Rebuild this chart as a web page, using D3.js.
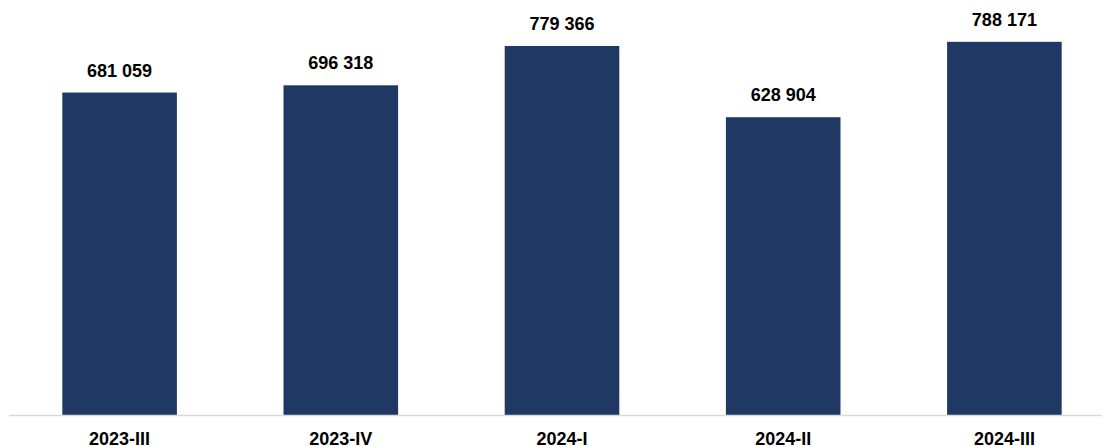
<!DOCTYPE html>
<html><head><meta charset="utf-8">
<script src="https://cdn.jsdelivr.net/npm/d3@7"></script>
<style>body{margin:0;background:#fff}svg{display:block}</style>
</head><body>
<svg id="c" width="1102" height="446"></svg>
<script>
const categories = ["2023-III","2023-IV","2024-I","2024-II","2024-III"];
const values = [681059, 696318, 779366, 628904, 788171];
const labels = ["681 059","696 318","779 366","628 904","788 171"];

const svg = d3.select("#c");
const baseY = 415;
const x = d3.scaleBand().domain(categories).range([9, 1115]).paddingInner(0.482).paddingOuter(0.241);
const y = d3.scaleLinear().domain([0, 876500]).range([baseY, 0]);

svg.selectAll("rect.bar").data(values).enter().append("rect")
  .attr("class","bar")
  .attr("x",(d,i)=>x(categories[i]))
  .attr("width",x.bandwidth())
  .attr("y",d=>y(d))
  .attr("height",d=>baseY-y(d))
  .attr("fill","#203864");

svg.append("line").attr("x1",9).attr("x2",1102).attr("y1",baseY+0.5).attr("y2",baseY+0.5)
  .attr("stroke","#d9d9d9").attr("stroke-width",1.5);

svg.selectAll("text.val").data(values).enter().append("text")
  .attr("class","val")
  .attr("x",(d,i)=>x(categories[i])+x.bandwidth()/2)
  .attr("y",d=>y(d)-16)
  .attr("text-anchor","middle")
  .attr("font-family","Liberation Sans, Arial, sans-serif")
  .attr("font-weight","bold").attr("font-size","18px").attr("fill","#000")
  .text((d,i)=>labels[i]);

svg.selectAll("text.cat").data(categories).enter().append("text")
  .attr("class","cat")
  .attr("x",d=>x(d)+x.bandwidth()/2)
  .attr("y",445)
  .attr("text-anchor","middle")
  .attr("font-family","Liberation Sans, Arial, sans-serif")
  .attr("font-weight","bold").attr("font-size","18px").attr("fill","#000")
  .text(d=>d);
</script>
</body></html>
